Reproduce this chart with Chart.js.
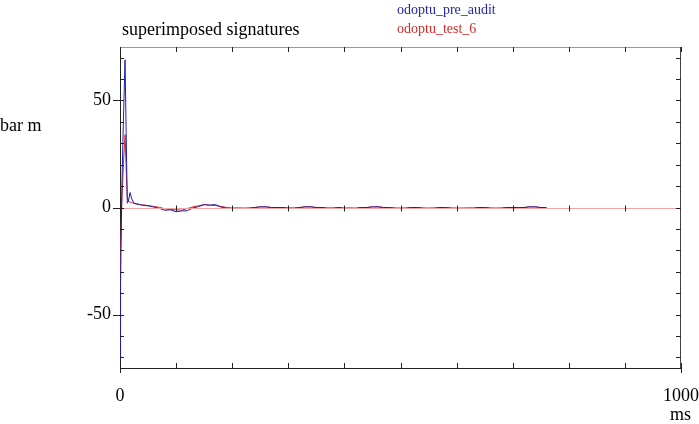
<!DOCTYPE html>
<html>
<head>
<meta charset="utf-8">
<script src="https://cdn.jsdelivr.net/npm/chart.js@4.4.1/dist/chart.umd.min.js"></script>
<style>
  html, body { margin: 0; padding: 0; background: #fff; }
  #wrap { width: 699px; height: 424px; }
</style>
</head>
<body>
<div id="wrap"><canvas id="chart" width="699" height="424"></canvas></div>
<script>
// time axis (ms) shared by both traces
const timeMs = [0, 1, 3, 6, 9, 11, 13, 15, 18, 21, 25, 30, 35, 40,
  50, 60, 70, 80, 90, 100, 110, 120, 130, 140, 150, 160, 170, 180, 190,
  200, 210, 220, 230, 240, 250, 260, 270, 280, 290, 300, 310, 320, 330, 340,
  350, 360, 370, 380, 390, 400, 410, 420, 430, 440, 450, 460, 470, 480, 490,
  500, 510, 520, 530, 540, 550, 560, 570, 580, 590, 600, 610, 620, 630, 640,
  650, 660, 670, 680, 690, 700, 710, 720, 730, 740, 750, 760];

const preAudit = [-70, -35, 5, 40, 69, 35, 2, 3, 7, 4, 2, 1.5, 1.4, 1,
  0.8, 0.2, -0.4, -1.3, -1.1, -2, -1.6, -1.5, -0.2, 0.4, 1.3, 1.1, 1.4, 0.2, -0.3,
  -0.4, -0.3, -0.4, -0.3, 0, 0.3, 0.3, 0, 0, 0, -0.3, -0.3, 0, 0.3, 0.3,
  0, 0, -0.3, -0.3, 0, -0.4, -0.3, -0.4, 0, 0, 0.3, 0.3, 0, 0, -0.3,
  -0.4, -0.3, 0, 0, -0.3, -0.4, -0.3, 0, 0, -0.3, -0.4, -0.4, -0.3, -0.3, 0,
  0, -0.3, -0.4, -0.3, 0, 0, 0, 0, 0.3, 0.3, 0, 0];

const test6 = [-35, -20, 0, 20, 34, 18, 5, 3, 2.5, 2.2, 2, 1.8, 1.4, 1.3,
  0.9, 0.5, 0.1, -0.6, -0.9, -1.1, -1.2, -0.5, 0.3, 0.8, 1.4, 1.1, 0.9, 0.5, 0,
  -0.3, -0.3, -0.3, -0.3, 0, 0.3, 0.3, 0, 0, 0, -0.3, -0.3, 0, 0.3, 0.3,
  0, 0, -0.3, -0.3, 0, -0.3, -0.3, -0.3, 0, 0, 0.3, 0.3, 0, 0, -0.3,
  -0.3, -0.3, 0, 0, -0.3, -0.3, -0.3, 0, 0, -0.3, -0.3, -0.3, -0.3, -0.3, 0,
  0, -0.3, -0.3, -0.3, 0, 0, 0, 0, 0.3, 0.3, 0, 0];

const seriesNames = ['odoptu_pre_audit', 'odoptu_test_6'];
const seriesColors = ['#1f1fa8', '#d42a2a'];

const xLabels = [0, 1000];
const yLabels = [-50, 0, 50];
const xTickStep = 100;
const yTickStep = 10;

const serif = 'Liberation Serif, Times New Roman, serif';

function toPoints(vals) {
  return timeMs.map((t, i) => ({ x: t, y: vals[i] }));
}

// frame, tick marks, zero line and the free texts
const framePlugin = {
  id: 'frame',
  afterDatasetsDraw(chart) {
    const c = chart.ctx;
    const a = chart.chartArea;
    const xs = chart.scales.x;
    const ys = chart.scales.y;
    c.save();
    c.lineWidth = 1;

    // pink zero line over the traces
    const y0 = Math.round(ys.getPixelForValue(0)) + 0.5;
    c.strokeStyle = '#f2a4a4';
    c.beginPath();
    c.moveTo(a.left, y0);
    c.lineTo(a.right, y0);
    c.stroke();

    // top and right edges
    c.strokeStyle = '#9a9a9a';
    c.beginPath();
    c.moveTo(a.left, a.top + 0.5);
    c.lineTo(a.right, a.top + 0.5);
    c.stroke();
    c.strokeStyle = '#444';
    c.beginPath();
    c.moveTo(a.right - 0.5, a.top);
    c.lineTo(a.right - 0.5, a.bottom);
    c.stroke();

    c.strokeStyle = '#222';
    c.beginPath();
    for (let t = xs.min; t <= xs.max; t += xTickStep) {
      const px = Math.round(xs.getPixelForValue(t)) + 0.5;
      c.moveTo(px, a.bottom - 5);
      c.lineTo(px, a.bottom + (t === xs.min || t === xs.max ? 5 : 0));
      c.moveTo(px, a.top);
      c.lineTo(px, a.top + 5);
      if (t > xs.min && t < xs.max) {
        c.moveTo(px, y0 - 3);
        c.lineTo(px, y0 + 3);
      }
    }
    for (let v = -70; v <= 70; v += yTickStep) {
      const py = Math.round(ys.getPixelForValue(v)) + 0.5;
      const major = yLabels.includes(v);
      c.moveTo(a.left - (major ? 7 : 0), py);
      c.lineTo(a.left + 4, py);
      c.moveTo(a.right - 5, py);
      c.lineTo(a.right, py);
    }
    c.stroke();

    c.fillStyle = '#000';
    c.textBaseline = 'alphabetic';
    c.textAlign = 'left';
    c.font = '18px ' + serif;
    c.fillText('superimposed signatures', a.left + 2, 35);
    c.fillText('bar m', 0, 131);
    c.fillText('ms', 670, 420);

    c.font = '14px ' + serif;
    chart.data.datasets.forEach((ds, i) => {
      c.fillStyle = ds.borderColor;
      c.fillText(ds.label, 397, 14 + i * 19);
    });
    c.restore();
  }
};

const ctx = document.getElementById('chart').getContext('2d');

const chart = new Chart(ctx, {
  type: 'line',
  data: {
    datasets: [
      {
        label: seriesNames[0],
        data: toPoints(preAudit),
        borderColor: seriesColors[0],
        borderWidth: 1,
        pointRadius: 0,
        tension: 0
      },
      {
        label: seriesNames[1],
        data: toPoints(test6),
        borderColor: seriesColors[1],
        borderWidth: 1,
        pointRadius: 0,
        tension: 0
      }
    ]
  },
  options: {
    responsive: false,
    animation: false,
    devicePixelRatio: 1,
    layout: { padding: { top: 47, right: 18, left: 0, bottom: 0 } },
    plugins: {
      legend: { display: false },
      title: { display: false },
      tooltip: { enabled: false }
    },
    scales: {
      x: {
        type: 'linear',
        min: 0,
        max: 1000,
        afterBuildTicks: s => { s.ticks = xLabels.map(v => ({ value: v })); },
        afterFit: s => { s.height = 56; s.paddingLeft = 0; s.paddingRight = 0; },
        grid: { display: false, drawTicks: false },
        border: { display: true, color: '#222', width: 1 },
        ticks: {
          padding: 17,
          maxRotation: 0,
          autoSkip: false,
          color: '#000',
          font: { family: serif, size: 18 },
          callback: v => String(v)
        }
      },
      y: {
        type: 'linear',
        min: -75,
        max: 75,
        afterBuildTicks: s => { s.ticks = yLabels.map(v => ({ value: v })); },
        afterFit: s => { s.width = 120; s.paddingTop = 0; s.paddingBottom = 0; },
        grid: { display: false, drawTicks: false },
        border: { display: true, color: '#222', width: 1 },
        ticks: {
          padding: 9,
          color: '#000',
          font: { family: serif, size: 18 }
        }
      }
    }
  },
  plugins: [framePlugin]
});
</script>
</body>
</html>
